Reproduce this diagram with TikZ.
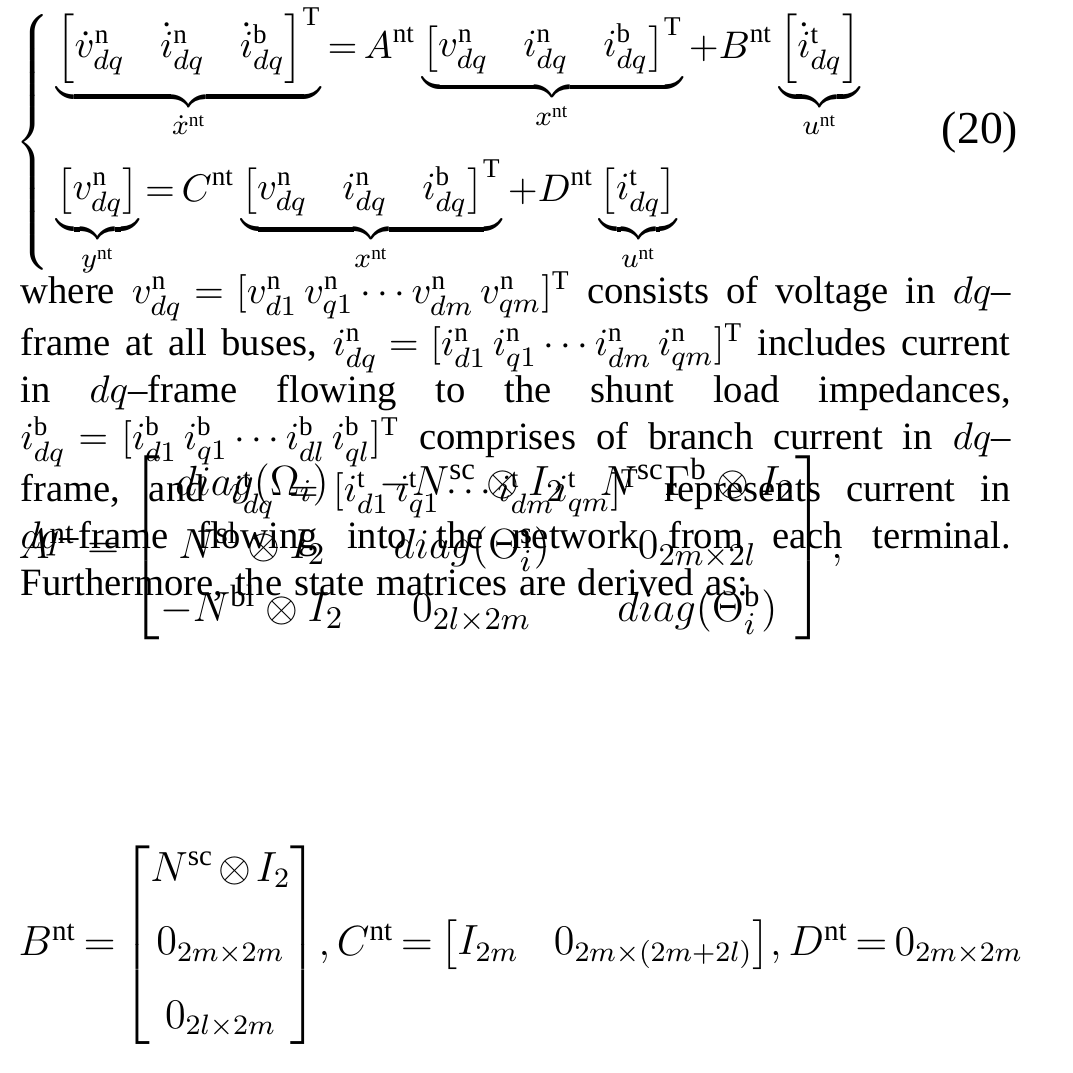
\documentclass[tikz,border=0pt]{standalone}
\usepackage{amsmath,amssymb}
\usepackage{fontspec}
\setmainfont{Liberation Serif}
\newcommand{\rmx}[1]{\mathrm{#1}}
\begin{document}
\begin{tikzpicture}
\useasboundingbox (0,0) rectangle (10.73,10.73);
\tikzset{txt/.style={inner sep=0pt,font=\fontsize{11}{13.3}\selectfont}}
\node[txt,anchor=north west] (eq) at (0.15,10.66) {%
$\medmuskip=2mu \thickmuskip=3mu
\left\{\begin{aligned}
&\underbrace{\begin{bmatrix}\dot v^{\rmx n}_{dq} & \dot i^{\rmx n}_{dq} & \dot i^{\rmx b}_{dq}\end{bmatrix}^{\rmx T}}_{\dot x^{\rmx{nt}}}
= A^{\rmx{nt}}\underbrace{\begin{bmatrix} v^{\rmx n}_{dq} & i^{\rmx n}_{dq} & i^{\rmx b}_{dq}\end{bmatrix}^{\rmx T}}_{x^{\rmx{nt}}}
+B^{\rmx{nt}}\underbrace{\begin{bmatrix}\dot i^{\rmx t}_{dq}\end{bmatrix}}_{u^{\rmx{nt}}}\\[2pt]
&\underbrace{\begin{bmatrix} v^{\rmx n}_{dq}\end{bmatrix}}_{y^{\rmx{nt}}}
= C^{\rmx{nt}}\underbrace{\begin{bmatrix} v^{\rmx n}_{dq} & i^{\rmx n}_{dq} & i^{\rmx b}_{dq}\end{bmatrix}^{\rmx T}}_{x^{\rmx{nt}}}
+D^{\rmx{nt}}\underbrace{\begin{bmatrix} i^{\rmx t}_{dq}\end{bmatrix}}_{u^{\rmx{nt}}}
\end{aligned}\right.$};
\node[txt,font=\fontsize{13}{15}\selectfont] (tag) at (9.8,9.4) {(20)};
\node[txt,anchor=north west,text width=9.9cm,align=justify] (para) at (0.2,8.02) {%
\hyphenpenalty=10000\spaceskip=0.3em plus 1em
where $v^{\rmx n}_{dq}=[v^{\rmx n}_{d1}\,v^{\rmx n}_{q1}\cdots v^{\rmx n}_{dm}\,v^{\rmx n}_{qm}]^{\rmx T}$ consists of voltage in $dq$--\linebreak
frame at all buses, $i^{\rmx n}_{dq}=[i^{\rmx n}_{d1}\,i^{\rmx n}_{q1}\cdots i^{\rmx n}_{dm}\,i^{\rmx n}_{qm}]^{\rmx T}$ includes current\linebreak
in $dq$--frame flowing to the shunt load impedances,\linebreak
$i^{\rmx b}_{dq}=[i^{\rmx b}_{d1}\,i^{\rmx b}_{q1}\cdots i^{\rmx b}_{dl}\,i^{\rmx b}_{ql}]^{\rmx T}$ comprises of branch current in $dq$--\linebreak
frame, and $i^{\rmx t}_{dq}=[i^{\rmx t}_{d1}\,i^{\rmx t}_{q1}\cdots i^{\rmx t}_{dm} i^{\rmx t}_{qm}]^{\rmx T}$ represents current in\linebreak
$dq$--frame flowing into the network from each terminal.\linebreak
Furthermore, the state matrices are derived as:\par};
\node[txt,anchor=west,font=\fontsize{12.5}{15}\selectfont] (A) at (0.18,5.25) {%
$A^{\rmx{nt}}=\begin{bmatrix}
diag(\Omega_i) & -N^{\rmx{sc}}\otimes I_2 & N^{\rmx{sc}}\Gamma^{\rmx b}\otimes I_2\\[3pt]
N^{\rmx{sl}}\otimes I_2 & diag(\Theta^{\rmx s}_i) & 0_{2m\times 2l}\\[3pt]
-N^{\rmx{bl}}\otimes I_2 & 0_{2l\times 2m} & diag(\Theta^{\rmx b}_i)
\end{bmatrix},$};
\node[txt,anchor=west,font=\fontsize{11.8}{14}\selectfont] (B) at (0.18,1.28) {%
$\medmuskip=2mu \thickmuskip=3mu B^{\rmx{nt}}=\begin{bmatrix} N^{\rmx{sc}}\otimes I_2\\[7pt] 0_{2m\times 2m}\\[7pt] 0_{2l\times 2m}\end{bmatrix}\!,
C^{\rmx{nt}}=\begin{bmatrix} I_{2m} & 0_{2m\times(2m+2l)}\end{bmatrix}\!,
D^{\rmx{nt}}=0_{2m\times 2m}$};
\end{tikzpicture}
\end{document}
